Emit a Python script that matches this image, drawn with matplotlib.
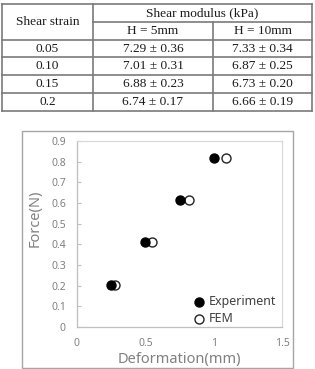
import matplotlib
matplotlib.use("Agg")
import matplotlib.pyplot as plt
from matplotlib.lines import Line2D
from matplotlib.patches import Rectangle

# ---- table data ----
strain_labels = ["0.05", "0.10", "0.15", "0.2"]
h5_mean = [7.29, 7.01, 6.88, 6.74]
h5_sd = [0.36, 0.31, 0.23, 0.17]
h10_mean = [7.33, 6.87, 6.73, 6.66]
h10_sd = [0.34, 0.25, 0.20, 0.19]
col_header = "Shear strain"
group_header = "Shear modulus (kPa)"
sub_headers = ["H = 5mm", "H = 10mm"]

# ---- chart data ----
exp_def = [0.25, 0.50, 0.75, 1.00]
exp_force = [0.205, 0.41, 0.615, 0.82]
fem_def = [0.28, 0.55, 0.82, 1.09]
fem_force = [0.205, 0.41, 0.615, 0.82]
x_ticks = [0, 0.5, 1, 1.5]
x_tick_labels = ["0", "0.5", "1", "1.5"]
y_ticks = [0, 0.1, 0.2, 0.3, 0.4, 0.5, 0.6, 0.7, 0.8, 0.9]
y_tick_labels = ["0", "0.1", "0.2", "0.3", "0.4", "0.5", "0.6", "0.7", "0.8", "0.9"]

W, H = 315, 369
fig = plt.figure(figsize=(W / 100, H / 100), dpi=100)

# overlay axes in pixel coordinates for table and frame
ov = fig.add_axes([0, 0, 1, 1])
ov.set_xlim(0, W)
ov.set_ylim(H, 0)
ov.axis("off")

serif = "Liberation Serif"
line_c = "#7a7a7a"
xs = [2, 93, 213, 312]
top = 4
rh = 17.8
ys = [top + i * rh for i in range(7)]

def hline(x0, x1, y):
    ov.add_line(Line2D([x0, x1], [y, y], color=line_c, lw=1.2))

def vline(x, y0, y1):
    ov.add_line(Line2D([x, x], [y0, y1], color=line_c, lw=1.2))

hline(xs[0], xs[3], ys[0])
hline(xs[1], xs[3], ys[1])
for y in ys[2:]:
    hline(xs[0], xs[3], y)
vline(xs[0], ys[0], ys[6])
vline(xs[1], ys[0], ys[6])
vline(xs[2], ys[1], ys[6])
vline(xs[3], ys[0], ys[6])

fs_t = 9.6
tc = "#1a1a1a"
ov.text((xs[0] + xs[1]) / 2, (ys[0] + ys[2]) / 2, col_header, ha="center", va="center",
        family=serif, fontsize=fs_t, color=tc)
ov.text((xs[1] + xs[3]) / 2, (ys[0] + ys[1]) / 2, group_header, ha="center", va="center",
        family=serif, fontsize=fs_t, color=tc)
ov.text((xs[1] + xs[2]) / 2, (ys[1] + ys[2]) / 2, sub_headers[0], ha="center", va="center",
        family=serif, fontsize=fs_t, color=tc)
ov.text((xs[2] + xs[3]) / 2, (ys[1] + ys[2]) / 2, sub_headers[1], ha="center", va="center",
        family=serif, fontsize=fs_t, color=tc)
for i, s in enumerate(strain_labels):
    yc = (ys[2 + i] + ys[3 + i]) / 2
    ov.text((xs[0] + xs[1]) / 2, yc, s, ha="center", va="center", family=serif, fontsize=fs_t, color=tc)
    ov.text((xs[1] + xs[2]) / 2, yc, f"{h5_mean[i]:.2f} \u00b1 {h5_sd[i]:.2f}", ha="center", va="center",
            family=serif, fontsize=fs_t, color=tc)
    ov.text((xs[2] + xs[3]) / 2, yc, f"{h10_mean[i]:.2f} \u00b1 {h10_sd[i]:.2f}", ha="center", va="center",
            family=serif, fontsize=fs_t, color=tc)

# chart outer frame
ov.add_patch(Rectangle((22, 131), 271, 237, fill=False, ec="#a6a6a6", lw=1.0))

# ---- chart ----
ax_l, ax_r, ax_t, ax_b = 77, 282, 141, 327
ax = fig.add_axes([ax_l / W, (H - ax_b) / H, (ax_r - ax_l) / W, (ax_b - ax_t) / H])
sans = "Noto Sans"
ax.scatter(exp_def, exp_force, s=42, c="black", edgecolors="black", linewidths=1.0,
           label="Experiment", zorder=3)
ax.scatter(fem_def, fem_force, s=42, facecolors="white", edgecolors="#222222", linewidths=1.0,
           label="FEM", zorder=2)
ax.set_xlim(0, 1.5)
ax.set_ylim(0, 0.9)
ax.set_xticks(x_ticks)
ax.set_xticklabels(x_tick_labels)
ax.set_yticks(y_ticks)
ax.set_yticklabels(y_tick_labels)
for lab in ax.get_xticklabels() + ax.get_yticklabels():
    lab.set_family(sans)
    lab.set_fontsize(7.5)
    lab.set_color("#808080")
ax.tick_params(axis="y", direction="in", length=3, width=0.8, color="#bfbfbf", pad=8)
ax.tick_params(axis="x", length=0, pad=8)
for side in ["left", "bottom"]:
    ax.spines[side].set_color("#bfbfbf")
    ax.spines[side].set_linewidth(0.9)
for side in ["top", "right"]:
    ax.spines[side].set_color("#d9d9d9")
    ax.spines[side].set_linewidth(0.9)

ax.set_xlabel("Deformation(mm)", family=sans, fontsize=10.5, color="#808080", va="center")
ax.set_ylabel("Force(N)", family=sans, fontsize=10.5, color="#808080", va="center")
ax.xaxis.set_label_coords(0.5, (ax_b - 359) / (ax_b - ax_t))
ax.yaxis.set_label_coords((35 - ax_l) / (ax_r - ax_l), 0.586)

leg = ax.legend(loc="upper left", bbox_to_anchor=((194 - ax_l) / (ax_r - ax_l), (ax_b - 295) / (ax_b - ax_t)),
                frameon=False, borderpad=0, borderaxespad=0, handlelength=0.8, handletextpad=0.35,
                labelspacing=0.35, prop={"family": sans, "size": 9}, labelcolor="#404040")

fig.savefig("out.png", dpi=100)
